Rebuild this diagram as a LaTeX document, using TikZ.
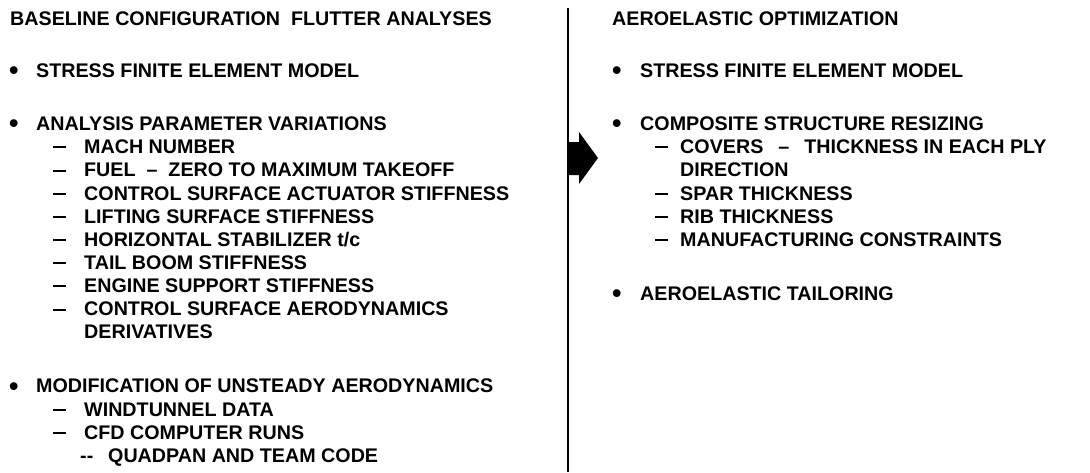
\documentclass[tikz,border=0pt]{standalone}
\usepackage{fontspec}
\setmainfont{Liberation Sans}
% list marks: a round bullet and a short heavy dash
\newcommand{\blt}{\raisebox{-2.6pt}{\fontsize{27}{27}\selectfont •}}
\newcommand{\dsh}{\rule[4.8pt]{13pt}{1.9pt}}
\begin{document}
\begin{tikzpicture}[x=1pt,y=-1pt,
  txt/.style={anchor=base west, inner sep=0pt, text=black,
              font=\fontsize{19.7}{22}\selectfont\bfseries},
  divider/.style={line width=2pt, draw=black},
  bigarrow/.style={fill=black, draw=none}]
\useasboundingbox[fill=white] (0,0) rectangle (1090,472);

% ---- left column: baseline flutter analyses ----
\node[txt] (lh)  at (10,25)    {BASELINE CONFIGURATION\ \ FLUTTER ANALYSES};
\node[txt] (l1)  at (9,77)     {\makebox[27pt][l]{\blt}STRESS FINITE ELEMENT MODEL};
\node[txt] (l2)  at (9,130)    {\makebox[27pt][l]{\blt}ANALYSIS PARAMETER VARIATIONS};
\node[txt] (l3)  at (53,153)   {\makebox[31pt][l]{\dsh}MACH NUMBER};
\node[txt] (l4)  at (53,176.5) {\makebox[31pt][l]{\dsh}FUEL \ – \ ZERO TO MAXIMUM TAKEOFF};
\node[txt] (l5)  at (53,200)   {\makebox[31pt][l]{\dsh}CONTROL SURFACE ACTUATOR STIFFNESS};
\node[txt] (l6)  at (53,223)   {\makebox[31pt][l]{\dsh}LIFTING SURFACE STIFFNESS};
\node[txt] (l7)  at (53,246)   {\makebox[31pt][l]{\dsh}HORIZONTAL STABILIZER t/c};
\node[txt] (l8)  at (53,269)   {\makebox[31pt][l]{\dsh}TAIL BOOM STIFFNESS};
\node[txt] (l9)  at (53,292)   {\makebox[31pt][l]{\dsh}ENGINE SUPPORT STIFFNESS};
\node[txt] (l10) at (53,315.5) {\makebox[31pt][l]{\dsh}CONTROL SURFACE AERODYNAMICS};
\node[txt] (l11) at (84,338.5) {DERIVATIVES};
\node[txt] (l12) at (9,392.5)  {\makebox[27pt][l]{\blt}MODIFICATION OF UNSTEADY AERODYNAMICS};
\node[txt] (l13) at (53,416)   {\makebox[31pt][l]{\dsh}WINDTUNNEL DATA};
\node[txt] (l14) at (53,439)   {\makebox[31pt][l]{\dsh}CFD COMPUTER RUNS};
\node[txt] (l15) at (80,462.5) {\makebox[28pt][l]{-{}-}QUADPAN AND TEAM CODE};

% ---- divider with the transition arrow ----
\coordinate (dtop) at (568,8);
\coordinate (dbot) at (568,472);
\draw[divider] (dtop) -- (dbot);
\fill[bigarrow] (569,142) -- (579,142) -- (579,132) -- (598,158)
                -- (579,184) -- (579,175) -- (569,175) -- cycle;

% ---- right column: aeroelastic optimization ----
\node[txt] (rh)  at (612,25)   {AEROELASTIC OPTIMIZATION};
\node[txt] (r1)  at (612,77)   {\makebox[28pt][l]{\blt}STRESS FINITE ELEMENT MODEL};
\node[txt] (r2)  at (612,130)  {\makebox[28pt][l]{\blt}COMPOSITE STRUCTURE RESIZING};
\node[txt] (r3)  at (655,153)  {\makebox[25pt][l]{\dsh}COVERS\hspace{15pt}–\hspace{15pt}THICKNESS IN EACH PLY};
\node[txt] (r4)  at (680,176.5){DIRECTION};
\node[txt] (r5)  at (655,200)  {\makebox[25pt][l]{\dsh}SPAR THICKNESS};
\node[txt] (r6)  at (655,223)  {\makebox[25pt][l]{\dsh}RIB THICKNESS};
\node[txt] (r7)  at (655,246)  {\makebox[25pt][l]{\dsh}MANUFACTURING CONSTRAINTS};
\node[txt] (r8)  at (612,300)  {\makebox[28pt][l]{\blt}AEROELASTIC TAILORING};
\end{tikzpicture}
\end{document}
